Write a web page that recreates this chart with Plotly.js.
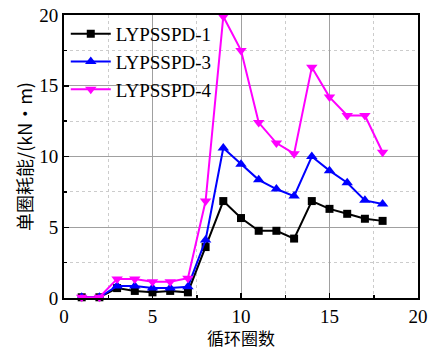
<!DOCTYPE html>
<html><head><meta charset="utf-8">
<script src="https://cdn.plot.ly/plotly-3.0.1.min.js"></script>
<style>body{margin:0;padding:0;}#c{width:432px;height:350px;}</style>
</head><body><div id="c"></div>
<script>
const cycles = [1,2,3,4,5,6,7,8,9,10,11,12,13,14,15,16,17,18];
const lyp1 = [0.05,0.05,0.7,0.5,0.4,0.5,0.4,3.6,6.85,5.65,4.75,4.75,4.2,6.85,6.3,5.95,5.6,5.45];
const lyp3 = [0.05,0.05,0.85,0.85,0.7,0.7,0.8,4.1,10.6,9.45,8.35,7.7,7.2,10.0,9.0,8.15,6.9,6.65];
const lyp4 = [0.05,0.05,1.35,1.35,1.15,1.15,1.4,6.85,19.9,17.5,12.4,10.95,10.2,16.3,14.2,12.9,12.9,10.3];
const names = ['LYPSSPD-1','LYPSSPD-3','LYPSSPD-4'];
const colors = ['#000000','#0000ff','#ff00ff'];
const symbols = ['square','triangle-up','triangle-down'];
const series = [lyp1, lyp3, lyp4];
const traces = series.map((s,i)=>({
  x: cycles, y: s, name: names[i], type:'scatter', mode:'lines+markers',
  line:{color:colors[i], width:2},
  marker:{symbol:symbols[i], color:colors[i], size: i===0?8:10},
  cliponaxis:false
}));
const axisCommon = {
  showline:true, linecolor:'#000', linewidth:2, mirror:true,
  ticks:'inside', ticklen:5, tickcolor:'#000', tickwidth:1.5,
  showgrid:true, gridcolor:'#a0a0a0', gridwidth:1,
  minor:{showgrid:true, gridcolor:'#cccccc', griddash:'dot', gridwidth:1, ticks:'inside', ticklen:3, tickcolor:'#000'},
  tickfont:{family:'Liberation Serif, Times New Roman, serif', size:19, color:'#000'},
  zeroline:false
};
const layout = {
  width:432, height:350,
  margin:{l:64, r:14, t:15, b:52},
  paper_bgcolor:'#fff', plot_bgcolor:'#fff',
  showlegend:true,
  legend:{x:0.005, y:1, xanchor:'left', yanchor:'top', bgcolor:'rgba(255,255,255,0)',
    font:{family:'Liberation Serif, Times New Roman, serif', size:19, color:'#000'},
    tracegroupgap:0, itemwidth:40},
  xaxis: Object.assign({}, axisCommon, {range:[0,20], dtick:5, tick0:0, minor:Object.assign({}, axisCommon.minor, {dtick:2.5}),
    title:{text:'循环圈数', font:{family:'Noto Sans CJK SC', size:17, color:'#000'}, standoff:2}}),
  yaxis: Object.assign({}, axisCommon, {range:[0,20], dtick:5, tick0:0, minor:Object.assign({}, axisCommon.minor, {dtick:2.5}),
    title:{text:'单圈耗能/(kN・m)', font:{family:'Noto Sans CJK SC', size:18, color:'#000'}, standoff:2}})
};
Plotly.newPlot('c', traces, layout, {displayModeBar:false, staticPlot:true});
</script></body></html>
